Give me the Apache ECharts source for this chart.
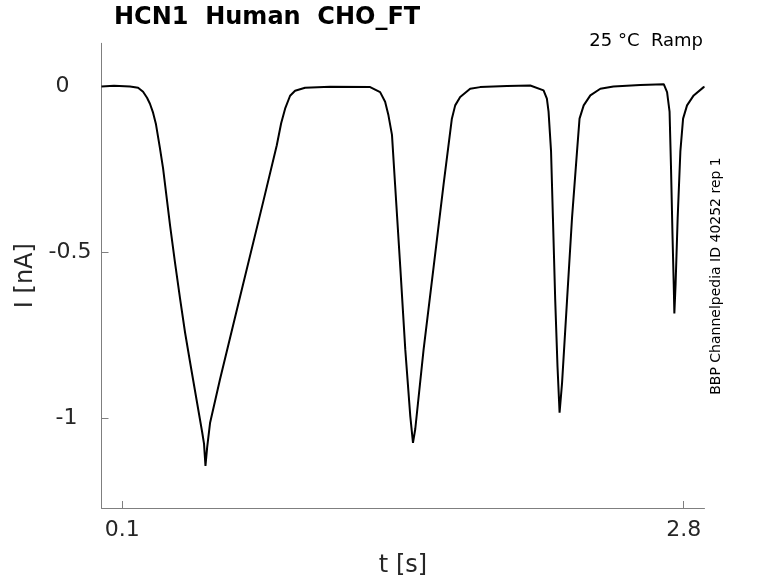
<!DOCTYPE html>
<html>
<head>
<meta charset="utf-8">
<script src="https://cdn.jsdelivr.net/npm/echarts@6/dist/echarts.min.js"></script>
<style>
html,body{margin:0;padding:0;background:#fff;}
#chart{width:778px;height:583px;}
</style>
</head>
<body>
<div id="chart"></div>
<script>
// Time (s) and current (nA)
const timeS = [
  0.000, 0.060, 0.137, 0.176, 0.200, 0.219, 0.233, 0.248, 0.262, 0.281, 0.296, 0.330,
  0.354, 0.378, 0.402, 0.426, 0.484, 0.493, 0.500, 0.508, 0.522, 0.570, 0.666, 0.779,
  0.843, 0.864, 0.883, 0.907, 0.931, 0.979, 1.100, 1.292, 1.340, 1.364, 1.380, 1.397,
  1.412, 1.437, 1.461, 1.485, 1.498, 1.509, 1.549, 1.597, 1.645, 1.685, 1.701, 1.725,
  1.773, 1.821, 1.950, 2.062, 2.126, 2.142, 2.150, 2.162, 2.171, 2.182, 2.193, 2.203,
  2.215, 2.239, 2.263, 2.287, 2.299, 2.319, 2.351, 2.399, 2.462, 2.591, 2.704, 2.720,
  2.732, 2.739, 2.746, 2.752, 2.755, 2.761, 2.771, 2.784, 2.797, 2.816, 2.848, 2.896,
  2.900
];
const currentNA = [
  0.000, 0.002, 0.000, -0.004, -0.016, -0.034, -0.052, -0.079, -0.114, -0.186, -0.246, -0.420,
  -0.533, -0.640, -0.742, -0.831, -1.041, -1.076, -1.143, -1.088, -1.014, -0.882, -0.634, -0.344,
  -0.177, -0.111, -0.067, -0.028, -0.013, -0.004, -0.001, -0.002, -0.017, -0.046, -0.087, -0.146,
  -0.296, -0.545, -0.793, -0.993, -1.074, -1.032, -0.793, -0.545, -0.296, -0.097, -0.057, -0.032,
  -0.007, -0.002, 0.001, 0.003, -0.012, -0.037, -0.076, -0.195, -0.395, -0.643, -0.843, -0.983,
  -0.893, -0.643, -0.395, -0.195, -0.097, -0.057, -0.027, -0.007, 0.000, 0.004, 0.007, -0.017,
  -0.076, -0.246, -0.445, -0.595, -0.684, -0.595, -0.395, -0.195, -0.097, -0.057, -0.027, -0.002,
  -0.001
];
const xTicks = [0.1, 2.8];
const yTicks = [0, -0.5, -1];

const titleText = 'HCN1  Human  CHO_FT';
const conditionText = '25 °C  Ramp';
const sourceText = 'BBP Channelpedia ID 40252 rep 1';

const chart = echarts.init(document.getElementById('chart'), null, {renderer: 'canvas'});
const axisColor = '#7f7f7f';
const textColor = '#262626';
const fontFam = '"DejaVu Sans", sans-serif';

chart.setOption({
  animation: false,
  backgroundColor: '#ffffff',
  title: {
    text: titleText,
    left: 114,
    top: 6,
    padding: 0,
    textStyle: {fontFamily: fontFam, fontSize: 24, fontWeight: 'bold', color: '#000'}
  },
  grid: {left: 101.5, right: 73.5, top: 43.3, bottom: 70.7, containLabel: false},
  xAxis: {
    type: 'value',
    min: 0,
    max: 2.9,
    name: 't [s]',
    nameLocation: 'middle',
    nameGap: 46,
    nameTextStyle: {fontFamily: fontFam, fontSize: 24, color: textColor},
    axisLine: {onZero: false, lineStyle: {color: axisColor, width: 1}},
    axisTick: {show: true, inside: true, length: 7, customValues: xTicks, lineStyle: {color: axisColor}},
    axisLabel: {customValues: xTicks, fontFamily: fontFam, fontSize: 22, color: textColor, margin: 11},
    splitLine: {show: false}
  },
  yAxis: {
    type: 'value',
    min: -1.27,
    max: 0.13,
    name: 'I [nA]',
    nameLocation: 'middle',
    nameGap: 63,
    nameTextStyle: {fontFamily: fontFam, fontSize: 24, color: textColor},
    axisLine: {show: true, lineStyle: {color: axisColor, width: 1}},
    axisTick: {show: true, inside: true, length: 7, customValues: yTicks, lineStyle: {color: axisColor}},
    axisLabel: {
      customValues: yTicks,
      fontFamily: fontFam, fontSize: 22, color: textColor, margin: 10,
      formatter: function (v) {
        if (v === 0) return '{z|0}';
        if (v === -1) return '{o|-1}';
        return '{h|' + v + '}';
      },
      rich: {
        z: {fontFamily: fontFam, fontSize: 22, color: textColor, padding: [0, 22, 0, 0]},
        o: {fontFamily: fontFam, fontSize: 22, color: textColor, padding: [0, 14, 0, 0]},
        h: {fontFamily: fontFam, fontSize: 22, color: textColor}
      }
    },
    splitLine: {show: false}
  },
  graphic: [
    {
      type: 'text',
      right: 75,
      top: 32,
      style: {text: conditionText, font: '18px "DejaVu Sans", sans-serif', fill: '#000'}
    },
    {
      type: 'text',
      x: 716,
      y: 276,
      rotation: Math.PI / 2,
      style: {text: sourceText, font: '14px "DejaVu Sans", sans-serif', fill: '#000', align: 'center', verticalAlign: 'middle'}
    }
  ],
  series: [{
    type: 'line',
    data: timeS.map((t, i) => [t, currentNA[i]]),
    showSymbol: false,
    smooth: false,
    lineStyle: {color: '#000', width: 2},
    z: 5
  }]
});
</script>
</body>
</html>
